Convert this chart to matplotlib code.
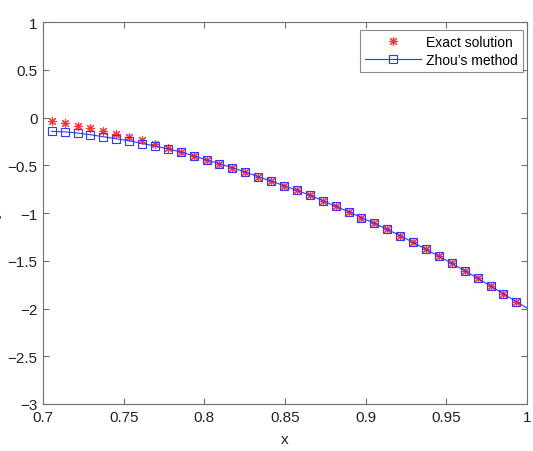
import matplotlib
matplotlib.use('Agg')
import matplotlib.pyplot as plt

plt.rcParams['font.family'] = ['Liberation Sans', 'DejaVu Sans']

# grid points (markers)
x = [0.7054, 0.7134, 0.7214, 0.7294, 0.7374, 0.7454, 0.7534, 0.7614, 0.7694, 0.7774,
     0.7854, 0.7934, 0.8014, 0.8094, 0.8174, 0.8254, 0.8334, 0.8414, 0.8494, 0.8574,
     0.8654, 0.8734, 0.8814, 0.8894, 0.8974, 0.9054, 0.9134, 0.9214, 0.9294, 0.9374,
     0.9454, 0.9534, 0.9614, 0.9694, 0.9774, 0.9854, 0.9934]

exact = [-0.040, -0.061, -0.086, -0.113, -0.145, -0.170, -0.201, -0.239, -0.274, -0.316,
         -0.356, -0.400, -0.445, -0.484, -0.526, -0.571, -0.620, -0.665, -0.714, -0.764,
         -0.812, -0.871, -0.930, -0.986, -1.049, -1.108, -1.171, -1.238, -1.307, -1.380,
         -1.453, -1.527, -1.603, -1.684, -1.764, -1.845, -1.929]

zhou = [-0.145, -0.150, -0.162, -0.180, -0.201, -0.222, -0.243, -0.272, -0.298, -0.328,
        -0.360, -0.400, -0.445, -0.484, -0.526, -0.571, -0.620, -0.665, -0.714, -0.764,
        -0.812, -0.871, -0.930, -0.986, -1.049, -1.108, -1.171, -1.238, -1.307, -1.380,
        -1.453, -1.527, -1.603, -1.684, -1.764, -1.845, -1.929]

# line continues to the right boundary
x_end = 1.0
zhou_end = -1.995

fig = plt.figure(figsize=(5.33, 4.52), dpi=100)
ax = fig.add_axes([0.0807, 0.104, 0.908, 0.845])

ax.plot(x, exact, ls='none', marker=(8, 2, 0), color='#ff3030', ms=6.5, mew=0.8,
        label='Exact solution')
ax.plot(x + [x_end], zhou + [zhou_end], '-s', color='#3535ff', lw=0.8, ms=5.2,
        mfc='none', mew=0.8, markevery=list(range(len(x))), label="Zhou\u2019s method")

ax.set_xlim(0.7, 1.0)
ax.set_ylim(-3, 1)
ax.set_xticks([0.7, 0.75, 0.8, 0.85, 0.9, 0.95, 1.0])
ax.set_xticklabels(['0.7', '0.75', '0.8', '0.85', '0.9', '0.95', '1'])
ax.set_yticks([-3, -2.5, -2, -1.5, -1, -0.5, 0, 0.5, 1])
ax.set_yticklabels(['\u22123', '\u22122.5', '\u22122', '\u22121.5', '\u22121',
                    '\u22120.5', '0', '0.5', '1'])

axcol = '#6e6e6e'
for s in ax.spines.values():
    s.set_color(axcol)
    s.set_linewidth(0.8)
ax.tick_params(direction='in', top=True, right=True, length=4, width=0.8,
               color=axcol, labelsize=11, pad=4, labelcolor='#222222')

ax.set_xlabel('x', fontsize=11, color='#222222', labelpad=6)
ax.set_ylabel('y', fontsize=11, color='#222222')
ax.yaxis.set_label_coords(-0.085, 0.5)

leg = ax.legend(loc='upper right', bbox_to_anchor=(0.9917, 0.979), fontsize=10,
                frameon=True, fancybox=False, borderaxespad=0, handlelength=4.0,
                labelspacing=0.3, borderpad=0.35, handletextpad=0.4)
leg.get_frame().set_edgecolor(axcol)
leg.get_frame().set_linewidth(0.8)

fig.savefig('out.png', dpi=100)
plt.close(fig)
